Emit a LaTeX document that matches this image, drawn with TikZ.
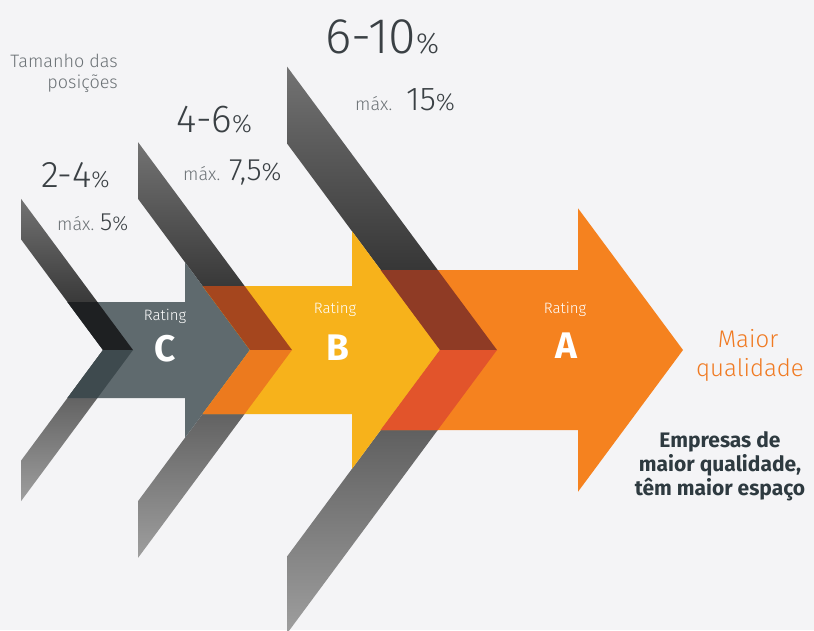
\documentclass[tikz,border=0pt]{standalone}
\usepackage{fontspec}
\setmainfont{Fira Sans}
\newfontfamily\lt{Fira Sans Light}
\definecolor{bg}{HTML}{F4F4F6}
\definecolor{numgray}{HTML}{3A4044}
\definecolor{softgray}{HTML}{6C7276}
\definecolor{arrC}{HTML}{5F6A6E}
\definecolor{arrB}{HTML}{F7B21B}
\definecolor{arrA}{HTML}{F5821F}
\definecolor{ovCu}{HTML}{1E2022}
\definecolor{ovCl}{HTML}{3E4A4E}
\definecolor{ovBu}{HTML}{A5461E}
\definecolor{ovBl}{HTML}{EC7A1E}
\definecolor{ovAu}{HTML}{8F3B25}
\definecolor{ovAl}{HTML}{E2542B}
\definecolor{orangetxt}{HTML}{F07A22}
\definecolor{darktxt}{HTML}{2E3A40}
\tikzset{
  upleg/.style={top color=black!55, bottom color=black!88},
  lowleg/.style={top color=black!72, bottom color=black!38},
  ratinglbl/.style={text=white, font=\lt\fontsize{15}{15}\selectfont, anchor=base},
  letterlbl/.style={text=white, font=\bfseries\fontsize{37}{37}\selectfont, anchor=base},
  numlbl/.style={text=numgray, font=\lt, anchor=base west, inner sep=0pt},
  maxlbl/.style={text=softgray, font=\lt, anchor=base west, inner sep=0pt},
  tamlbl/.style={text=softgray, font=\lt\fontsize{18}{18}\selectfont, anchor=base east, inner sep=0pt},
}
\newcommand{\fs}[1]{\fontsize{#1}{#1}\selectfont}
\begin{document}
\begin{tikzpicture}[x=1pt,y=-1pt]
\useasboundingbox (0,0) rectangle (814,630);
\fill[bg] (0,0) rectangle (814,630);

% ---- chevron bands (grey) ----
% band C
\shade[upleg] (21,198.8) -- (133,350) -- (103,350) -- (21,239.3) -- cycle;
\shade[lowleg] (103,350) -- (133,350) -- (21,501.2) -- (21,460.7) -- cycle;
% band B
\shade[upleg] (138,142.1) -- (292,350) -- (250,350) -- (138,198.8) -- cycle;
\shade[lowleg] (250,350) -- (292,350) -- (138,557.9) -- (138,501.2) -- cycle;
% band A
\shade[upleg] (287,66.5) -- (497,350) -- (440,350) -- (287,143.45) -- cycle;
\shade[lowleg] (440,350) -- (497,350) -- (287,633.5) -- (287,556.55) -- cycle;

% ---- arrows ----
\fill[arrC] (67.4,302) -- (185,302) -- (185,262.25) -- (250,350) -- (185,437.75) -- (185,398) -- (67.4,398) -- (103,350) -- cycle;
\fill[arrB] (202.6,286) -- (352,286) -- (352,231.2) -- (440,350) -- (352,468.8) -- (352,414) -- (202.6,414) -- (250,350) -- cycle;
\fill[arrA] (380.7,270) -- (578,270) -- (578,208.25) -- (683,350) -- (578,491.75) -- (578,430) -- (380.7,430) -- (440,350) -- cycle;

% ---- overlaps of bands over arrow bodies ----
\fill[ovCu] (67.4,302) -- (97.4,302) -- (133,350) -- (103,350) -- cycle;
\fill[ovCl] (103,350) -- (133,350) -- (97.4,398) -- (67.4,398) -- cycle;
\fill[ovBu] (202.6,286) -- (244.6,286) -- (292,350) -- (250,350) -- cycle;
\fill[ovBl] (250,350) -- (292,350) -- (244.6,414) -- (202.6,414) -- cycle;
\fill[ovAu] (380.7,270) -- (437.7,270) -- (497,350) -- (440,350) -- cycle;
\fill[ovAl] (440,350) -- (497,350) -- (437.7,430) -- (380.7,430) -- cycle;

% ---- arrow labels ----
\node[ratinglbl] (rc) at (165,320) {Rating};
\node[letterlbl] (lc) at (165,361) {C};
\node[ratinglbl] (rb) at (335,313) {Rating};
\node[letterlbl] (lb) at (338,360) {B};
\node[ratinglbl] (ra) at (565,313) {Rating};
\node[letterlbl] (la) at (566,358) {A};

% ---- top texts ----
\node[tamlbl] (tam1) at (118,67) {Tamanho das};
\node[tamlbl] (tam2) at (118,88) {posições};

\node[numlbl] (n610) at (325,53) {\fs{50}6-10{\fs{29}\%}};
\node[maxlbl] (m15a) at (355,110) {\fs{18}máx.};
\node[numlbl] (m15b) at (406,110) {\fs{33}15{\fs{24}\%}};

\node[numlbl] (n46) at (176,132) {\fs{39}4-6{\fs{25}\%}};
\node[maxlbl] (m75a) at (183,180) {\fs{18}máx.};
\node[numlbl] (m75b) at (229,180) {\fs{31}7,5{\fs{25}\%}};

\node[numlbl] (n24) at (41,187) {\fs{37}2-4{\fs{23}\%}};
\node[maxlbl] (m5a) at (57,230) {\fs{18}máx.};
\node[numlbl] (m5b) at (100,230) {\fs{25}5{\fs{20}\%}};

% ---- right texts ----
\node[text=orangetxt, font=\lt\fs{24}, anchor=base] (mq1) at (748,347) {Maior};
\node[text=orangetxt, font=\lt\fs{24}, anchor=base] (mq2) at (750,376) {qualidade};

\node[text=darktxt, font=\bfseries\fs{21}, anchor=base] (e1) at (720,447) {Empresas de};
\node[text=darktxt, font=\bfseries\fs{21}, anchor=base] (e2) at (720,471) {maior qualidade,};
\node[text=darktxt, font=\bfseries\fs{21}, anchor=base] (e3) at (720,495) {têm maior espaço};
\end{tikzpicture}
\end{document}
